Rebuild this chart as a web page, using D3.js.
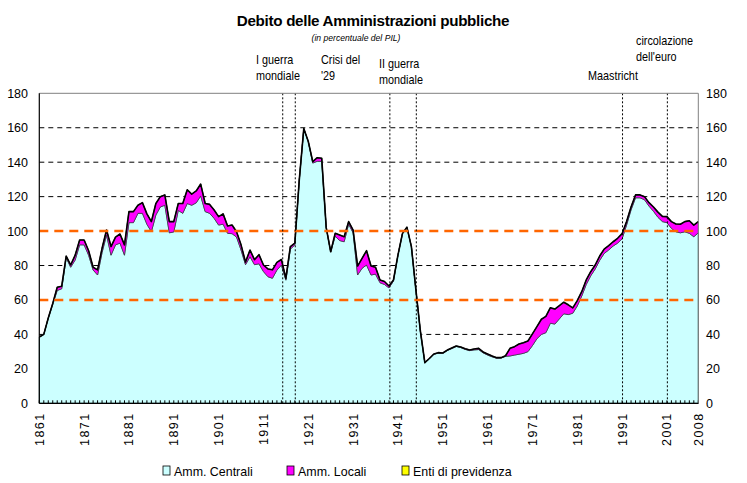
<!DOCTYPE html>
<html><head><meta charset="utf-8">
<script src="https://cdn.jsdelivr.net/npm/d3@7"></script>
<style>
html,body{margin:0;padding:0;background:#fff;}
svg{display:block;}
</style></head>
<body>
<svg id="chart" width="747" height="483"></svg>
<script>
// ---- data ----
const firstYear = 1861, lastYear = 2008;
const years = d3.range(firstYear, lastYear + 1);
const central = [
38.5,40,49.5,57.5,65.5,66.5,84.5,79,83.2,92,
92,86,77.4,74.5,87.5,97.7,86,92,93,86,
104.9,104.9,110.3,110.3,104,99.6,109.3,114,115,99,
99.5,112,110.3,116,115,116.4,120.4,111.3,110.3,107.4,
103.5,104,98.7,98.5,96.5,89,80.5,85.1,80.5,81,
76.5,73.5,72.6,77.3,80.3,71.5,89.5,92,130,159.5,
152,139.5,140.5,140.5,102,88,97,94.5,93.8,104,
99,74.5,78.4,80.3,74.5,75,70,69,67,71,
86,98.5,102.3,91,66,42,23.4,25.8,28.4,29.2,
29,30.6,31.8,33,32.4,31.3,30.6,31,31.2,29.3,
28,27,26.2,26.3,27.3,27.5,28,28.5,29,30,
33.5,37.5,40,41,46.5,46,49,52,51.5,52.3,
56.5,62.3,69,74,78,83,87,89,91.3,93,
95.5,103.5,112.3,119.3,119.3,118.2,114.5,111.5,108,105.5,
104.9,101.6,99.6,99,99.6,98.7,96.7,99];
const locali = [
0,0,0,0.5,1.9,1.5,1.0,1.3,2.8,2.8,
2.8,2.6,1.6,3.0,2.5,2.9,5.0,4.5,5.3,6.0,
6.4,6.4,4.7,6.2,6.0,5.9,6.7,6.0,6.0,6.5,
6.0,4.0,5.7,8.0,6.5,6.9,6.9,4.7,5.2,4.8,
4.9,6.0,4.3,5.0,3.1,3.0,1.5,3.9,2.9,5.3,
3.8,4.5,4.9,4.5,3.2,1.1,1.5,1.0,0,0,
0,0.8,2.1,1.8,0,0,1.7,3.2,2.9,1.5,
1.6,5.2,5.8,8.3,5.2,4.0,1.6,1.7,1.1,0.6,
0,0,0,0,0,0,0.2,0.2,0.2,0.2,
0.2,0.3,0.3,0.3,0.3,0.4,0.4,0.5,0.7,0.5,
0.6,0.5,0.3,0.2,0.3,4.4,4.9,5.9,6.2,6.2,
6.8,7.0,8.8,9.5,9.0,8.5,7.5,6.5,5.5,2.9,
3.1,2.5,2.6,2.4,2.3,2.5,2.5,2.5,2.5,2.8,
3.0,2.0,1.7,1.7,1.7,1.8,2.0,2.5,3.0,3.0,
3.5,3.9,4.5,5.0,5.9,7.3,6.8,6.5];
const enti = years.map(yr => (yr >= 1976 && yr <= 1980) ? 0.2 : 0);
const tickYears = [1861,1871,1881,1891,1901,1911,1921,1931,1941,1951,1961,1971,1981,1991,2001,2008];
const yTicks = [0,20,40,60,80,100,120,140,160,180];
const refLines = [60,100];
const eventYears = [1915.3,1918.1,1939.2,1945.1,1991.1,2001.1];
const seriesNames = ["Amm. Centrali","Amm. Locali","Enti di previdenza"];
const seriesColors = ["#CCFFFF","#FF00FF","#FFFF00"];
const annotations = [
  {lines:["I guerra","mondiale"], x:256, y:64},
  {lines:["Crisi del","'29"], x:321, y:64},
  {lines:["II guerra","mondiale"], x:379, y:68},
  {lines:["Maastricht"], x:588, y:80},
  {lines:["circolazione","dell'euro"], x:636, y:45}
];

// ---- chart ----
const FONT = "Liberation Sans, Arial, sans-serif";
const svg = d3.select("#chart");
const L = 39.3, R = 698.3, T = 93.3, B = 403.3;
const x = d3.scaleLinear().domain([firstYear, lastYear]).range([L, R]);
const y = d3.scaleLinear().domain([0, 180]).range([B, T]);

const table = years.map((yr,i) => ({year:yr, c:central[i], l:locali[i], e:enti[i]}));
const stack = d3.stack().keys(["c","l","e"])(table);

// title
svg.append("text").attr("x",373).attr("y",26).attr("text-anchor","middle")
  .attr("font-family",FONT).attr("font-weight","bold")
  .attr("font-size",15.2).attr("letter-spacing",-0.3).text("Debito delle Amministrazioni pubbliche");
svg.append("text").attr("x",356).attr("y",41).attr("text-anchor","middle")
  .attr("font-family",FONT).attr("font-style","italic")
  .attr("font-size",8.6).text("(in percentuale del PIL)");

// gridlines (behind)
svg.append("g").selectAll("line").data(yTicks.filter(v => v>0 && v<180 && !refLines.includes(v)))
  .join("line").attr("x1",L).attr("x2",R).attr("y1",d=>y(d)).attr("y2",d=>y(d))
  .attr("stroke","#000").attr("stroke-width",1).attr("stroke-dasharray","5,4");

// areas
const area = d3.area().x(d=>x(d.data.year)).y0(d=>y(d[0])).y1(d=>y(d[1]));
const strokes = ["#2f5f5f","#333","#777"];
svg.append("g").selectAll("path").data(stack).join("path")
  .attr("d", area).attr("fill",(d,i)=>seriesColors[i])
  .attr("stroke",(d,i)=>strokes[i]).attr("stroke-width",(d,i)=> i==0?1:0.6)
  .attr("stroke-linejoin","round");

// total line
const totalLine = d3.line().x(d=>x(d.data.year)).y(d=>y(d[1]));
svg.append("path").attr("d", totalLine(stack[2])).attr("fill","none")
  .attr("stroke","#000").attr("stroke-width",1.6).attr("stroke-linejoin","round");

// reference lines
svg.append("g").selectAll("line").data(refLines).join("line")
  .attr("x1",L).attr("x2",R-4).attr("y1",d=>y(d)).attr("y2",d=>y(d))
  .attr("stroke","#FF6600").attr("stroke-width",2.5).attr("stroke-dasharray","9,6");

// event lines
svg.append("g").selectAll("line").data(eventYears).join("line")
  .attr("x1",d=>x(d)).attr("x2",d=>x(d)).attr("y1",T).attr("y2",B)
  .attr("stroke","#000").attr("stroke-width",1).attr("stroke-dasharray","2,2");

// year tick marks
svg.append("g").selectAll("line").data(years).join("line")
  .attr("x1",d=>x(d)).attr("x2",d=>x(d)).attr("y1",B).attr("y2",B-3)
  .attr("stroke","#000").attr("stroke-width",1);

// frame
svg.append("line").attr("x1",L).attr("x2",R).attr("y1",T).attr("y2",T).attr("stroke","#808080").attr("stroke-width",1);
svg.append("line").attr("x1",R).attr("x2",R).attr("y1",T).attr("y2",B).attr("stroke","#808080").attr("stroke-width",1);
svg.append("line").attr("x1",L).attr("x2",L).attr("y1",T).attr("y2",B).attr("stroke","#000").attr("stroke-width",1.2);
svg.append("line").attr("x1",L).attr("x2",R).attr("y1",B).attr("y2",B).attr("stroke","#000").attr("stroke-width",1.2);

// y axis labels
svg.append("g").selectAll("text").data(yTicks).join("text")
  .attr("x",28).attr("y",d=>y(d)+4.5).attr("text-anchor","end")
  .attr("font-family",FONT).attr("font-size",12.5).text(d=>d);
svg.append("g").selectAll("text").data(yTicks).join("text")
  .attr("x",706).attr("y",d=>y(d)+4.5).attr("text-anchor","start")
  .attr("font-family",FONT).attr("font-size",12.5).text(d=>d);

// x axis labels
svg.append("g").selectAll("text").data(tickYears).join("text")
  .attr("transform",d=>`translate(${x(d)+4.5},${412.5}) rotate(-90)`)
  .attr("text-anchor","end").attr("font-family",FONT).attr("font-size",12.5)
  .attr("letter-spacing",1.4).text(d=>d);

// annotations (condensed)
const ann = svg.append("g").attr("font-family",FONT).attr("font-size",12.3);
annotations.forEach(a => {
  a.lines.forEach((t,i) => ann.append("text")
    .attr("transform",`translate(${a.x},${a.y + i*16}) scale(0.88,1)`).text(t));
});

// legend
const legX = [163, 287, 402];
const leg = svg.append("g").attr("font-family",FONT).attr("font-size",13.5);
seriesNames.forEach((n,i) => {
  leg.append("rect").attr("x",legX[i]).attr("y",466).attr("width",7).attr("height",9)
    .attr("fill",seriesColors[i]).attr("stroke","#000").attr("stroke-width",0.8);
  leg.append("text").attr("transform",`translate(${legX[i]+11},475.5) scale(0.92,1)`).text(n);
});
</script>
</body></html>
